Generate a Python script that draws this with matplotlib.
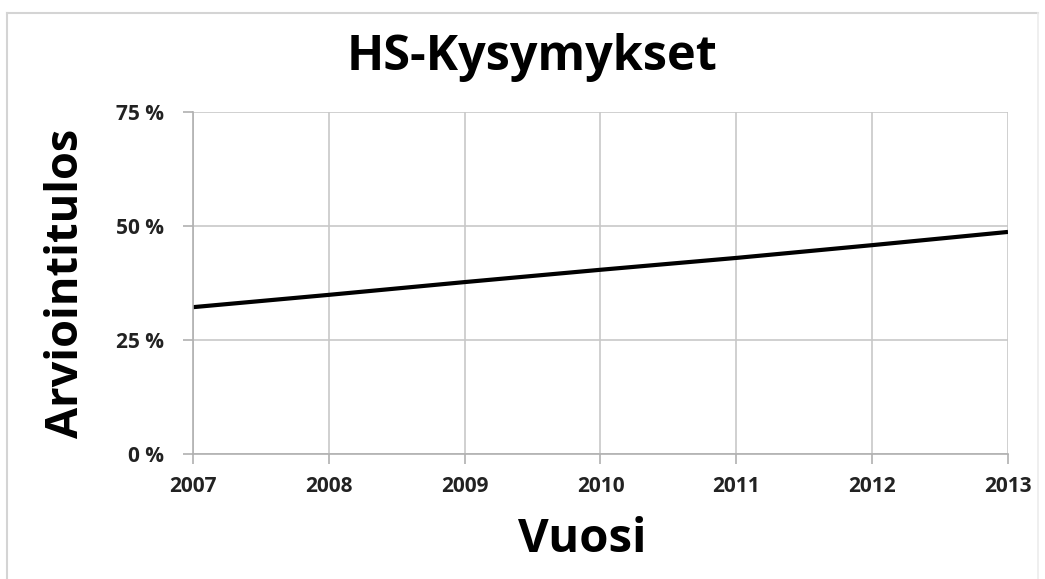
import matplotlib
matplotlib.use("Agg")
import matplotlib.pyplot as plt
from matplotlib.lines import Line2D

years = [2007, 2008, 2009, 2010, 2011, 2012, 2013]
scores = [32.2, 34.9, 37.7, 40.4, 43.0, 45.8, 48.7]

y_ticks = [0, 25, 50, 75]
y_tick_labels = ["0 %", "25 %", "50 %", "75 %"]

title = "HS-Kysymykset"
x_label = "Vuosi"
y_label = "Arviointitulos"

plt.rcParams["font.family"] = ["Open Sans", "DejaVu Sans"]

W, H = 1045, 579
fig = plt.figure(figsize=(W / 100, H / 100), dpi=100)
fig.patch.set_facecolor("white")

ax = fig.add_axes([193 / W, 1 - 454 / H, (1008 - 193) / W, (454 - 112) / H])

ax.plot(years, scores, color="black", linewidth=3, solid_capstyle="butt")

ax.set_xlim(2007, 2013)
ax.set_ylim(0, 75)
ax.set_xticks(years)
ax.set_xticklabels([str(y) for y in years])
ax.set_yticks(y_ticks)
ax.set_yticklabels(y_tick_labels)

ax.grid(True, color="#c8c8c8", linewidth=1.2)
ax.set_axisbelow(True)
for side in ["top", "right"]:
    ax.spines[side].set_visible(False)
for side in ["left", "bottom"]:
    ax.spines[side].set_color("#b0b0b0")
    ax.spines[side].set_linewidth(1.2)

ax.tick_params(axis="both", direction="out", length=7, width=1.2, color="#b0b0b0",
               labelsize=15, labelcolor="#222222")
ax.tick_params(axis="x", pad=9)
ax.tick_params(axis="y", pad=14)
for lbl in ax.get_xticklabels() + ax.get_yticklabels():
    lbl.set_fontweight("bold")

fig.text(532 / W, 1 - 58 / H, title, ha="center", va="center",
         fontsize=35, fontweight="bold", color="black")
fig.text(582 / W, 1 - 540 / H, x_label, ha="center", va="center",
         fontsize=34, fontweight="bold", color="black")
fig.text(67 / W, 1 - 283 / H, y_label, ha="center", va="center", rotation=90,
         fontsize=32.5, fontweight="bold", color="black")

# thin frame around the chart
border = "#d4d4d4"
fig.add_artist(Line2D([7 / W, 1038 / W], [1 - 13 / H, 1 - 13 / H], color=border, linewidth=1.5))
fig.add_artist(Line2D([7 / W, 7 / W], [0, 1 - 13 / H], color=border, linewidth=1.5))
fig.add_artist(Line2D([1038 / W, 1038 / W], [0, 1 - 13 / H], color="#ececec", linewidth=1.2))

fig.savefig("out.png", dpi=100, facecolor="white")
